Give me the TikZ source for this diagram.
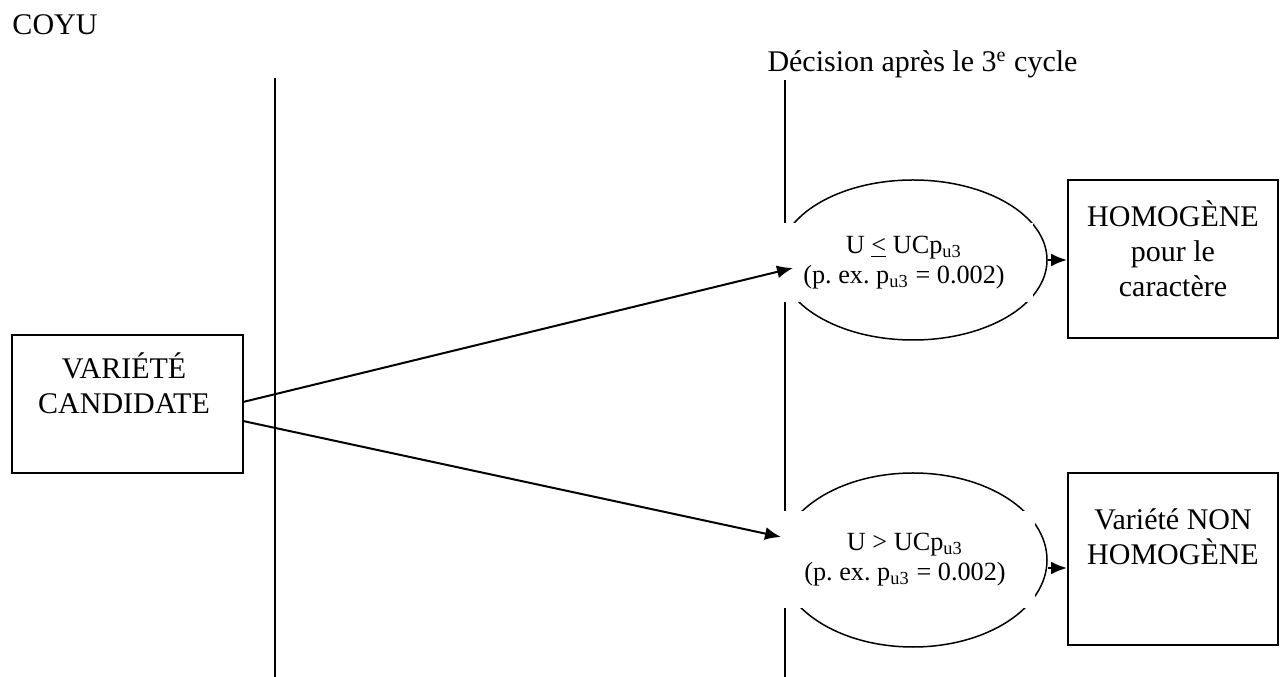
\documentclass[tikz,border=0pt]{standalone}
\usepackage{fontspec}
\setmainfont{Liberation Serif}
\usetikzlibrary{shapes.geometric,arrows.meta}
\frenchspacing

\begin{document}
\begin{tikzpicture}[x=0.4pt,y=-0.4pt,
  box/.style={draw,line width=0.8pt,inner sep=0pt},
  oval/.style={draw,ellipse,line width=0.6pt,inner sep=0pt,minimum width=107.2pt},
  cover/.style={fill=white,inner sep=0pt,align=center,font=\fontsize{10.5}{12}\selectfont},
  lbl/.style={align=center,inner sep=0pt,font=\fontsize{12}{14}\selectfont},
  arr/.style={-{Latex[length=6.4pt,width=5.2pt]},line width=0.8pt}]
\useasboundingbox (0,0) rectangle (1286,677);
\node[lbl,anchor=base west] (title) at (12,35) {COYU};
\node[lbl,anchor=base west] (dec) at (767,72) {Décision après le 3\textsuperscript{e} cycle};
\coordinate (l1t) at (275,78);
\coordinate (l1b) at (275,677);
\coordinate (l2t) at (785,80);
\coordinate (l2b) at (785,677);
\draw[line width=0.8pt] (l1t) -- (l1b);
\draw[line width=0.8pt] (l2t) -- (l2b);
\node[oval,minimum height=64pt] (e1) at (913,260) {};
\node[oval,minimum height=69.6pt] (e2) at (913,560) {};
\node[cover,minimum width=103.2pt,minimum height=31.6pt] (c1) at (904,262.5) {U \underline{<} UCp\textsubscript{u3}\\(p. ex. p\textsubscript{u3} = 0.002)};
\node[cover,minimum width=104pt,minimum height=38.8pt] (c2) at (905,559.5) {U > UCp\textsubscript{u3}\\(p. ex. p\textsubscript{u3} = 0.002)};
\node[box,minimum width=92.4pt,minimum height=55.2pt] (cand) at (127.5,404) {};
\node[lbl] (candtxt) at (124,383) {VARIÉTÉ\\CANDIDATE};
\node[box,minimum width=84pt,minimum height=63.2pt] (homo) at (1173,259) {};
\node[lbl] (homotxt) at (1173,249) {HOMOGÈNE\\pour le\\caractère};
\node[box,minimum width=84pt,minimum height=68.8pt] (nonhomo) at (1173,559) {};
\node[lbl] (nonhomotxt) at (1173,536.5) {Variété NON\\HOMOGÈNE};
\coordinate (a1) at (243,402);
\coordinate (b1) at (793,268);
\coordinate (a2) at (243,421);
\coordinate (b2) at (781,537);
\coordinate (s2) at (1048,568);
\draw[arr] (a1) -- (b1);
\draw[arr] (a2) -- (b2);
\draw[arr] (e1.east) -- (homo.west |- e1.east);
\draw[arr] (s2) -- (s2 -| nonhomo.west);
\end{tikzpicture}
\end{document}
